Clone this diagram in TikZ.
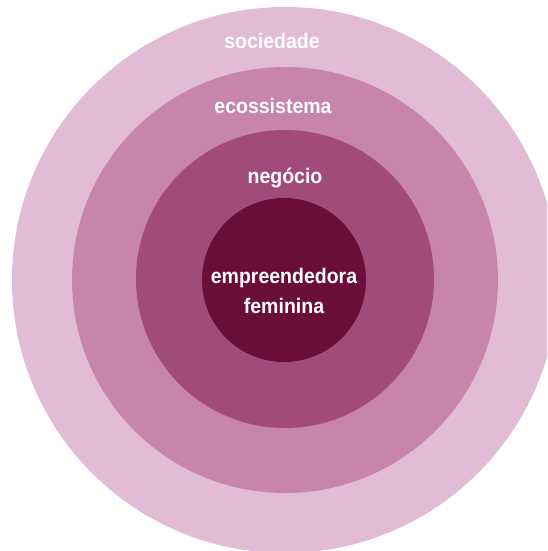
\documentclass[tikz,border=0pt]{standalone}
\usepackage{fontspec}
\setmainfont{Liberation Sans}
\definecolor{ringA}{HTML}{E2BCD6}
\definecolor{ringB}{HTML}{C784AC}
\definecolor{ringC}{HTML}{A24B7B}
\definecolor{ringD}{HTML}{6A0E39}
\begin{document}
\begin{tikzpicture}[x=1pt,y=-1pt,
  ring/.style={circle,draw=none,inner sep=0pt},
  lbl/.style={text=white,font=\bfseries\fontsize{19.5}{27}\selectfont,align=center,inner sep=0pt,yscale=1.08}]
  \useasboundingbox (0,0) rectangle (547,551);
  \begin{scope}
    \clip (0,0) rectangle (547,551);
    \node[ring,fill=ringA,minimum size=546pt] (soc) at (285,280) {};
    \node[ring,fill=ringB,minimum size=426pt] (eco) at (285,280) {};
    \node[ring,fill=ringC,minimum size=298pt] (neg) at (285,279) {};
    \node[ring,fill=ringD,minimum size=164pt] (emp) at (284,280) {};
  \end{scope}
  \node[lbl] (tsoc) at (272,41) {sociedade};
  \node[lbl] (teco) at (273,106) {ecossistema};
  \node[lbl] (tneg) at (285,178) {negócio};
  \node[lbl] (temp) at (284,291) {empreendedora\\feminina};
\end{tikzpicture}
\end{document}
